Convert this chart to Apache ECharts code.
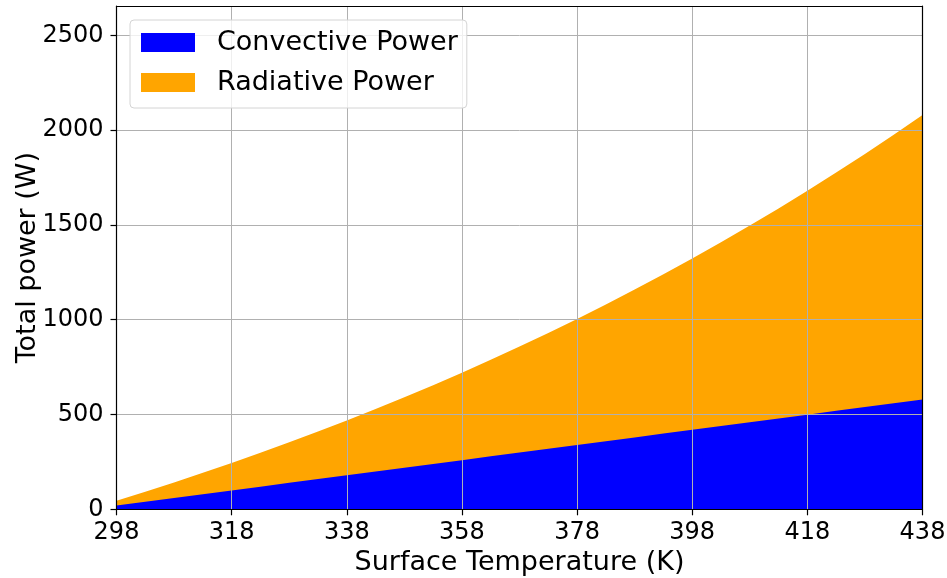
<!DOCTYPE html>
<html>
<head>
<meta charset="utf-8">
<script src="https://cdn.jsdelivr.net/npm/echarts@6/dist/echarts.min.js"></script>
<style>
  html, body { margin: 0; padding: 0; background: #fff; }
  #chart { width: 947px; height: 578px; }
</style>
</head>
<body>
<div id="chart"></div>
<script>
// Surface temperature samples (K)
const temperatures = [298, 303, 308, 313, 318, 323, 328, 333, 338, 343, 348, 353, 358, 363, 368,
  373, 378, 383, 388, 393, 398, 403, 408, 413, 418, 423, 428, 433, 438];
// Convective heat loss (W)
const convectivePower = [19.4, 39.4, 59.4, 79.4, 99.4, 119.4, 139.4, 159.4, 179.4, 199.4, 219.4,
  239.4, 259.4, 279.4, 299.4, 319.4, 339.4, 359.4, 379.4, 399.4, 419.4, 439.4, 459.4, 479.4,
  499.4, 519.4, 539.4, 559.4, 579.4];
// Radiative heat loss (W)
const radiativePower = [25.6, 53.3, 82.4, 112.9, 145.0, 178.6, 213.8, 250.6, 289.2, 329.5, 371.6,
  415.5, 461.4, 509.2, 559.0, 610.9, 665.0, 721.2, 779.7, 840.4, 903.6, 969.1, 1037.2, 1107.8,
  1181.0, 1256.9, 1335.5, 1416.9, 1501.2];
const xTicks = [298, 318, 338, 358, 378, 398, 418, 438];
const yTicks = [0, 500, 1000, 1500, 2000, 2500];

const FONT = 'DejaVu Sans';
const chart = echarts.init(document.getElementById('chart'), null, { renderer: 'canvas' });

// Stacked layers: the radiative band sits on top of the convective one.
const convectiveLayer = temperatures.map((t, i) => [t, convectivePower[i]]);
const totalLayer = temperatures.map((t, i) => [t, convectivePower[i] + radiativePower[i]]);

const frameAxis = (pos) => ({
  type: 'value', position: pos, z: 4,
  axisLine: { show: true, onZero: false, lineStyle: { color: '#000', width: 1.2 } },
  axisTick: { show: false }, axisLabel: { show: false }, splitLine: { show: false }
});

chart.setOption({
  animation: false,
  backgroundColor: '#ffffff',
  grid: { left: 116.5, right: 24.5, top: 6, bottom: 68.7, containLabel: false, outerBoundsMode: 'none' },
  legend: {
    left: 130, top: 20,
    orient: 'vertical',
    itemWidth: 54, itemHeight: 19, itemGap: 13,
    padding: [9, 9, 12, 11],
    backgroundColor: 'rgba(255,255,255,0.8)',
    borderColor: '#d4d4d4', borderWidth: 1, borderRadius: 4,
    textStyle: { fontFamily: FONT, fontSize: 27, color: '#000', padding: [0, 0, 0, 17] },
    icon: 'rect',
    data: ['Convective Power', 'Radiative Power'],
    z: 10
  },
  xAxis: [{
    type: 'value', min: 298, max: 438, interval: 20, z: 3,
    name: 'Surface Temperature (K)', nameLocation: 'middle', nameGap: 40, nameMoveOverlap: false,
    nameTextStyle: { fontFamily: FONT, fontSize: 27, color: '#000' },
    axisLine: { show: true, lineStyle: { color: '#000', width: 1.2 } },
    axisTick: { show: true, inside: false, length: 6, lineStyle: { color: '#000', width: 1.2 } },
    axisLabel: { fontFamily: FONT, fontSize: 24, color: '#000', margin: 11,
      formatter: (v) => xTicks.includes(v) ? String(v) : '' },
    splitLine: { show: true, lineStyle: { color: '#b0b0b0', width: 1 } }
  }, Object.assign(frameAxis('top'), { min: 298, max: 438 })],
  yAxis: [{
    type: 'value', min: 0, max: 2655, interval: 500, z: 3,
    name: 'Total power (W)', nameLocation: 'middle', nameGap: 75, nameMoveOverlap: false,
    nameTextStyle: { fontFamily: FONT, fontSize: 27, color: '#000' },
    axisLine: { show: true, lineStyle: { color: '#000', width: 1.2 } },
    axisTick: { show: true, inside: false, length: 6, lineStyle: { color: '#000', width: 1.2 } },
    axisLabel: { fontFamily: FONT, fontSize: 24, color: '#000', margin: 13, showMaxLabel: false,
      formatter: (v) => yTicks.includes(v) ? String(v) : '' },
    splitLine: { show: true, lineStyle: { color: '#b0b0b0', width: 1 } }
  }, Object.assign(frameAxis('right'), { min: 0, max: 2655 })],
  series: [{
    name: 'Convective Power', type: 'line',
    data: convectiveLayer, showSymbol: false, symbol: 'none',
    lineStyle: { width: 0 }, areaStyle: { color: '#0000ff', opacity: 1 },
    itemStyle: { color: '#0000ff' }, z: 2
  }, {
    name: 'Radiative Power', type: 'line',
    data: totalLayer, showSymbol: false, symbol: 'none',
    lineStyle: { width: 0 }, areaStyle: { color: '#ffa500', opacity: 1 },
    itemStyle: { color: '#ffa500' }, z: 1
  }]
});
</script>
</body>
</html>
